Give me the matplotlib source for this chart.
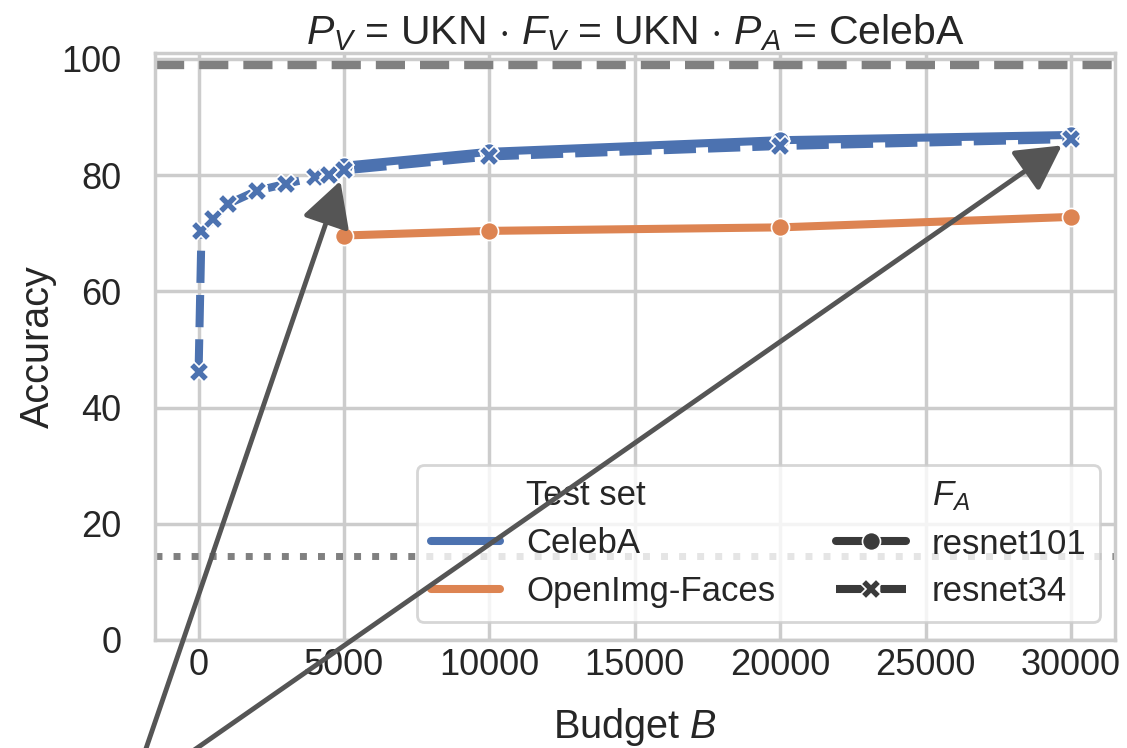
import matplotlib
matplotlib.use("Agg")
import matplotlib.pyplot as plt
from matplotlib.lines import Line2D
import seaborn as sns

sns.set_theme(style="whitegrid")
plt.rcParams['font.family'] = ['Liberation Sans', 'DejaVu Sans']
plt.rcParams['mathtext.fontset'] = 'custom'
plt.rcParams['mathtext.rm'] = 'Liberation Sans'
plt.rcParams['mathtext.it'] = 'Liberation Sans:italic'

# ---- data ----
budget_r101 = [5000, 10000, 20000, 30000]
celeba_r101 = [81.6, 84.0, 86.0, 86.9]
openimg_r101 = [69.6, 70.4, 71.0, 72.8]

budget_r34 = [0, 100, 500, 1000, 2000, 3000, 4000, 4500, 5000, 10000, 20000, 30000]
celeba_r34 = [46.2, 70.4, 72.4, 75.0, 77.3, 78.5, 79.6, 80.0, 80.8, 83.2, 85.0, 86.2]

upper_ref = 99.0
lower_ref = 14.5
arrow_targets = [(5000, 80.8), (30000, 86.2)]
arrow_source = (-2350, -26.6)

blue = '#4C72B0'
orange = '#DD8452'
dark = '#3a3a3a'
txt = '#262626'

fig = plt.figure(figsize=(11.27, 7.48), dpi=100)
ax = fig.add_axes([0.1375, 0.1444, 0.8515, 0.7847])

lw = 5.8
ax.plot(budget_r101, celeba_r101, color=blue, lw=lw, marker='o', ms=13,
        mec='white', mew=1.2, zorder=3)
ax.plot(budget_r34, celeba_r34, color=blue, lw=lw, marker='X', ms=14,
        mec='white', mew=1.2, dashes=(4, 1.5), zorder=3)
ax.plot(budget_r101, openimg_r101, color=orange, lw=lw, marker='o', ms=13,
        mec='white', mew=1.2, zorder=3)

ax.axhline(upper_ref, color='#808080', lw=6, dashes=(3.5, 1.8), zorder=2)
ax.axhline(lower_ref, color='#808080', lw=5, dashes=(1, 1.6), zorder=2)

ax.set_xlim(-1500, 31500)
ax.set_ylim(0, 101)
ax.set_xticks([0, 5000, 10000, 15000, 20000, 25000, 30000])
ax.set_yticks([0, 20, 40, 60, 80, 100])
ax.tick_params(axis='x', labelsize=26, colors=txt, pad=0)
ax.tick_params(axis='y', labelsize=26, colors=txt, pad=18)
ax.grid(True, color='#cccccc', lw=2.5)
for s in ax.spines.values():
    s.set_color('#cccccc')
    s.set_linewidth(2.5)

ax.set_title(r'$P_V$ = UKN $\cdot$ $F_V$ = UKN $\cdot$ $P_A$ = CelebA',
             fontsize=29.5, color=txt, pad=6)
ax.set_xlabel(r'Budget $B$', fontsize=28.5, color=txt, labelpad=16)
ax.set_ylabel('Accuracy', fontsize=28.5, color=txt, labelpad=3)

handles = [
    Line2D([], [], color='none'),
    Line2D([], [], color=blue, lw=lw),
    Line2D([], [], color=orange, lw=lw),
    Line2D([], [], color='none'),
    Line2D([], [], color=dark, lw=lw, marker='o', ms=13, mec='white', mew=1.2),
    Line2D([], [], color=dark, lw=lw, marker='X', ms=14, mec='white', mew=1.2,
           dashes=(4, 1.5)),
]
labels = ['Test set', 'CelebA', 'OpenImg-Faces', r'$F_A$', 'resnet101', 'resnet34']
leg = ax.legend(handles, labels, ncol=2, loc='lower right',
                bbox_to_anchor=(0.985, 0.03), fontsize=25, frameon=True,
                handlelength=2.0, handletextpad=0.75, columnspacing=1.75,
                borderpad=0.4, labelspacing=0.43, borderaxespad=0.0)
leg.get_frame().set_edgecolor('#cccccc')
leg.get_frame().set_linewidth(2)
for t in leg.get_texts():
    t.set_color(txt)

for tgt in arrow_targets:
    ann = ax.annotate('', xy=tgt, xytext=arrow_source, xycoords='data',
                      textcoords='data', annotation_clip=False,
                      arrowprops=dict(arrowstyle='-|>,head_length=1.1,head_width=0.6',
                                      color='#555555', lw=3.5, mutation_scale=25,
                                      shrinkA=0, shrinkB=8))
    ann.set_zorder(10)

fig.savefig('out.png', dpi=100)
